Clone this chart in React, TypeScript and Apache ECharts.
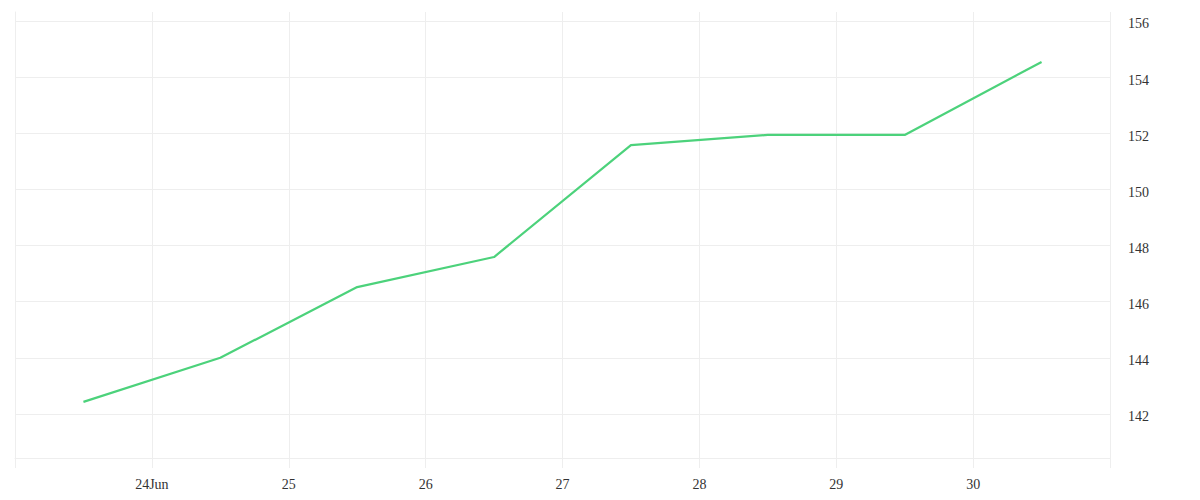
import React, { useEffect, useRef } from "react";
import * as echarts from "echarts";

const days: string[] = ["23", "24", "25", "26", "27", "28", "29", "30"];
const dayTickLabels: string[] = ["", "24Jun", "25", "26", "27", "28", "29", "30", ""];
const values: number[] = [142.43, 144.0, 146.52, 147.59, 151.58, 151.94, 151.94, 154.54];

const GRID = "#eeeeee";
const TEXT = "#333333";
const FONT = "'Liberation Serif', serif";

export default function App() {
  const ref = useRef<HTMLDivElement>(null);
  useEffect(() => {
    if (!ref.current) return;
    const chart = echarts.init(ref.current, undefined, { renderer: "svg" });
    chart.setOption({
      animation: false,
      grid: { left: 15, right: 90, top: 12, bottom: 42, containLabel: false },
      xAxis: {
        type: "value",
        min: 0,
        max: dayTickLabels.length - 1,
        interval: 1,
        axisLine: { show: true, lineStyle: { color: GRID, width: 1 } },
        axisTick: { show: true, length: 10, lineStyle: { color: GRID, width: 1 } },
        splitLine: { show: true, lineStyle: { color: GRID, width: 1 } },
        axisLabel: {
          color: TEXT,
          fontFamily: FONT,
          fontSize: 14,
          margin: 19,
          showMinLabel: true,
          showMaxLabel: true,
          formatter: (v: number) => dayTickLabels[Math.round(v)] ?? "",
        },
      },
      yAxis: {
        type: "value",
        position: "right",
        min: 140.43,
        max: 156.32,
        splitNumber: 8,
        minInterval: 2,
        maxInterval: 2,
        axisLine: { show: true, lineStyle: { color: GRID, width: 1 } },
        axisTick: { show: false },
        splitLine: { show: true, showMinLine: false, showMaxLine: false, lineStyle: { color: GRID, width: 1 } },
        axisLabel: {
          color: TEXT,
          fontFamily: FONT,
          fontSize: 14,
          margin: 18,
          verticalAlign: "top",
          padding: [-4, 0, 0, 0],
          showMinLabel: false,
          showMaxLabel: false,
        },
      },
      series: [
        {
          type: "line",
          name: "Price",
          data: days.map((d, i) => [i + 0.5, values[i]]),
          showSymbol: false,
          symbol: "none",
          lineStyle: { color: "#4cd27b", width: 2.2 },
          itemStyle: { color: "#4cd27b" },
        },
      ],
    });
    return () => chart.dispose();
  }, []);
  return (
    <div
      ref={ref}
      style={{ position: "fixed", left: 0, top: 0, width: 1200, height: 500, background: "#ffffff" }}
    />
  );
}
